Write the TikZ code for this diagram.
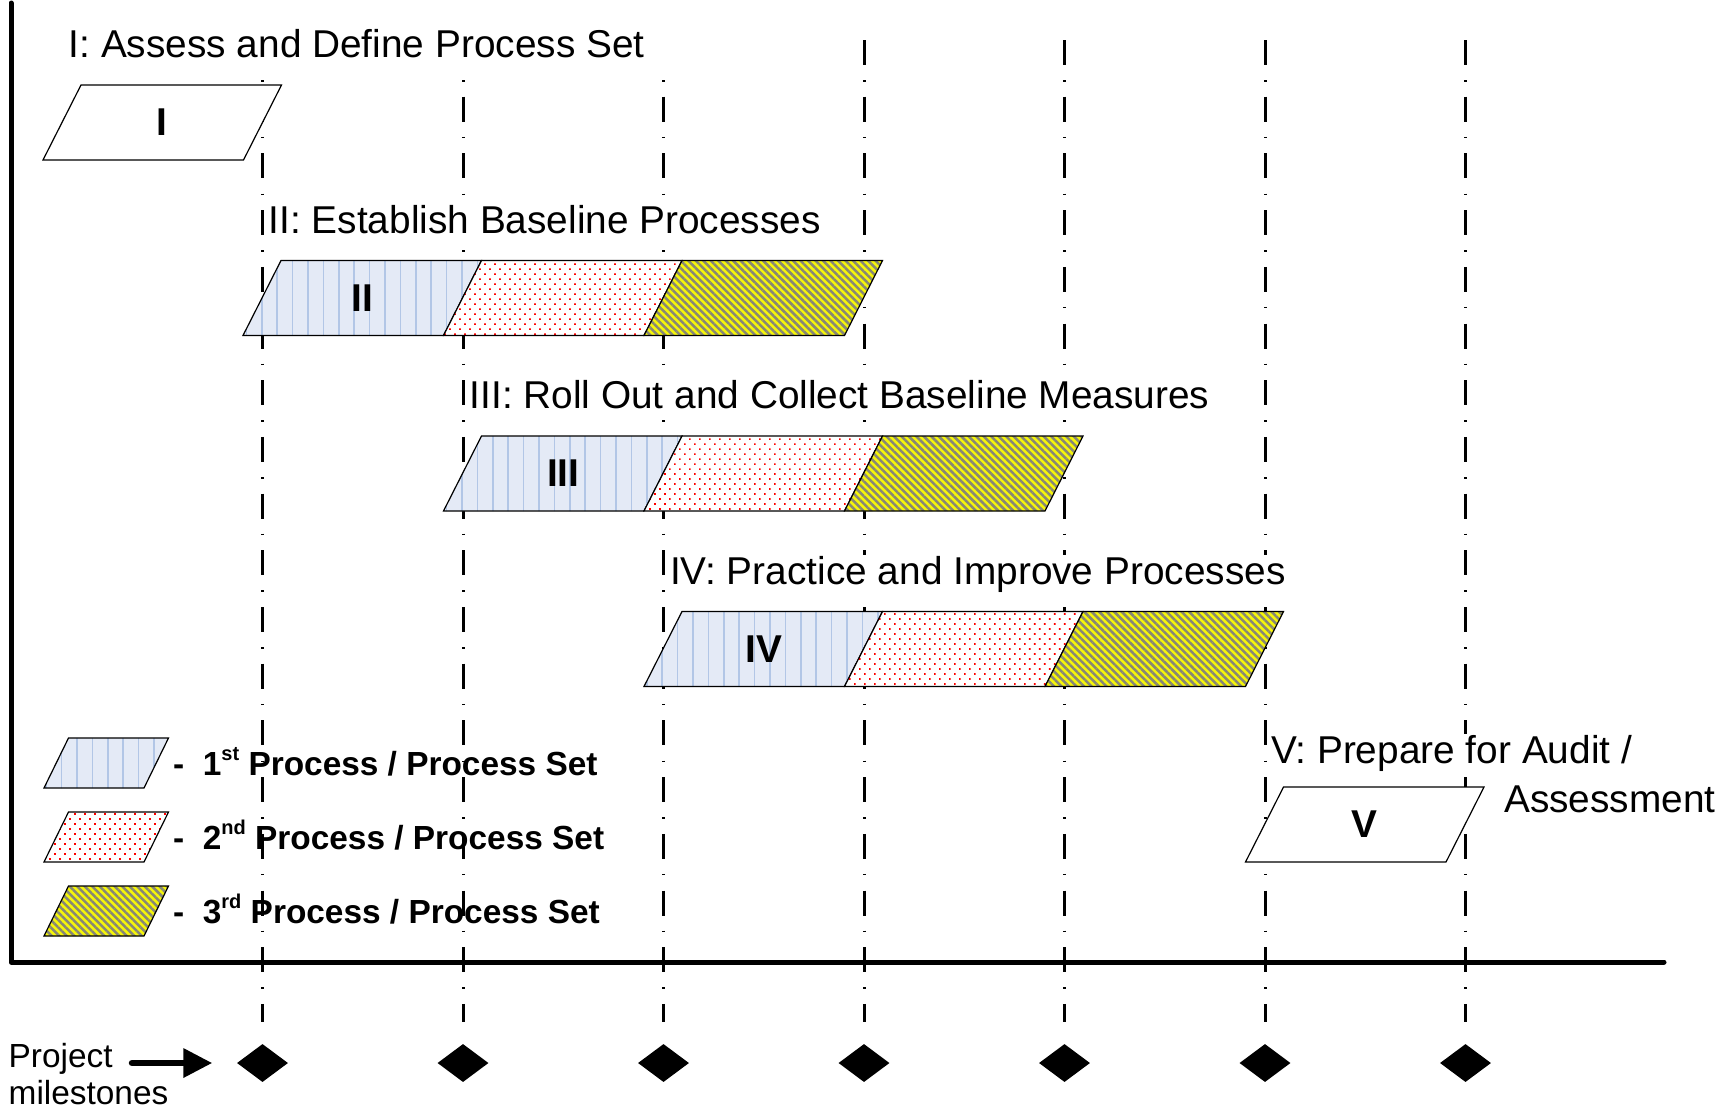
\documentclass[tikz,border=0pt]{standalone}
\usepackage{fontspec}
\setmainfont{Liberation Sans}
\usetikzlibrary{patterns.meta,shapes.geometric,arrows.meta}
\definecolor{pblue}{RGB}{228,234,246}
\definecolor{pbluel}{RGB}{178,198,230}
\definecolor{pred}{RGB}{255,0,0}
\definecolor{pyel}{RGB}{245,245,10}
\definecolor{pgray}{RGB}{135,135,118}
\newcommand\supx[1]{\raisebox{0.42em}{\fontsize{20}{20}\selectfont #1}}
\newcommand\pgram[4]{\path[#1] (#2+19,#3) -- (#2+219.5,#3) -- (#2+181.5,#3+75) -- (#2-19,#3+75) -- cycle;}
\newcommand\lgram[2]{\path[#1] (68.5,#2) -- (168.5,#2) -- (144,#2+50) -- (44,#2+50) -- cycle;}
\begin{document}
\begin{tikzpicture}[x=1pt,y=-1pt,
  segone/.style={draw=black, line width=1.2pt, preaction={fill=pblue},
     pattern={Lines[angle=90,distance=15.4pt,line width=1.7pt]}, pattern color=pbluel},
  segtwo/.style={draw=black, line width=1.2pt, preaction={fill=white},
     pattern={Dots[distance=7.07pt,angle=45,radius=1.2pt]}, pattern color=pred},
  segthree/.style={draw=black, line width=1.2pt, preaction={fill=pyel},
     pattern={Lines[angle=-45,distance=5.3pt,line width=2.5pt]}, pattern color=pgray},
  segwhite/.style={draw=black, line width=1.2pt, fill=white},
  msline/.style={line width=3pt, dash pattern=on 25pt off 15.1pt on 1.5pt off 15.1pt},
  ttl/.style={font=\fontsize{38.8}{46}\selectfont, fill=white, anchor=base west,
     inner xsep=1pt, inner ysep=0pt, text height=29pt, text depth=9pt},
  lbl/.style={font=\fontsize{38.8}{46}\bfseries\selectfont, inner sep=0pt},
  lgd/.style={font=\fontsize{33.4}{40}\bfseries\selectfont, anchor=base west, inner sep=0pt},
  plain/.style={font=\fontsize{33.4}{40}\selectfont, anchor=base west, inner sep=0pt},
  milestone/.style={diamond, fill=black, minimum width=51pt, minimum height=38pt, inner sep=0pt}
]
\useasboundingbox (0,0) rectangle (1734,1109);

% milestones and their dash-dot lines
\foreach \k in {1,...,7}{
  \node[milestone] (m\k) at (62+200.5*\k,1063) {};
  \coordinate (t\k) at (62+200.5*\k,40);
  \draw[msline, shorten >=22pt] (t\k) -- (m\k.north);
}

% phase I
\pgram{segwhite}{62}{85}{}
% phase II
\pgram{segone}{262}{260.5}{}
\pgram{segtwo}{462.5}{260.5}{}
\pgram{segthree}{663}{260.5}{}
% phase III
\pgram{segone}{462.5}{436}{}
\pgram{segtwo}{663}{436}{}
\pgram{segthree}{863.5}{436}{}
% phase IV
\pgram{segone}{663}{611.5}{}
\pgram{segtwo}{863.5}{611.5}{}
\pgram{segthree}{1064}{611.5}{}
% phase V
\pgram{segwhite}{1264.5}{787}{}

% box labels
\node[lbl] (lI) at (162.25,122.5) {I};
\node[lbl] (lII) at (362.75,298) {II};
\node[lbl] (lIII) at (563.25,473.5) {III};
\node[lbl] (lIV) at (763.75,649) {IV};
\node[lbl] (lV) at (1364.75,824.5) {V};

% titles
\node[ttl] (tI) at (67.5,57.5) {I: Assess and Define Process Set\hspace*{22pt}};
\node[ttl] (tII) at (267.5,233) {II: Establish Baseline Processes};
\node[ttl] (tIII) at (468.5,408.5) {III: Roll Out and Collect Baseline Measures};
\node[ttl] (tIV) at (669,584) {IV: Practice and Improve Processes};
\node[ttl] (tV) at (1270,763) {V: Prepare for Audit /};
\node[ttl] (tVb) at (1503,812) {Assessment};

% legend
\lgram{segone}{738}
\lgram{segtwo}{812}
\lgram{segthree}{886}
\node[lgd] (g1) at (173,775) {-~~1\supx{st} Process / Process Set};
\node[lgd] (g2) at (173,849) {-~~2\supx{nd} Process / Process Set};
\node[lgd] (g3) at (173,923) {-~~3\supx{rd} Process / Process Set};

% axes
\draw[line width=5pt, line cap=round, line join=round] (11,3) -- (11,962) -- (1664,962);

% project milestones
\node[plain] (proj) at (8.5,1067) {Project};
\node[plain] (miles) at (8.5,1104) {milestones};
\coordinate (arrS) at (132,1063);
\draw[line width=6.5pt, line cap=round, -{Triangle[length=29pt,width=28pt]}, shorten >=24.5pt] (arrS) -- (m1.west);
\end{tikzpicture}
\end{document}
